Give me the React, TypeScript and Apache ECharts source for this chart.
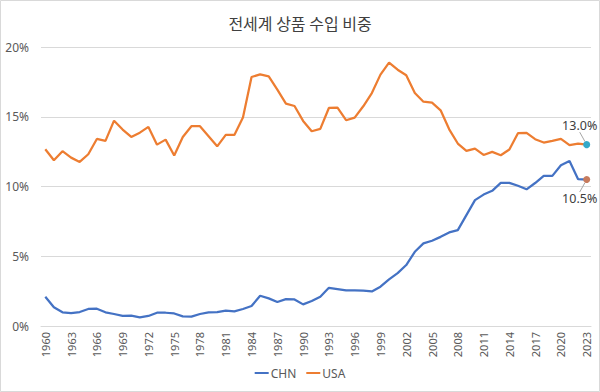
import React, { useEffect, useRef } from "react";
import * as echarts from "echarts";

const years: string[] = [];
for (let y = 1960; y <= 2023; y++) years.push(String(y));

const chn: number[] = [
  2.1, 1.34, 0.98, 0.93, 1.0, 1.22, 1.24, 0.98, 0.86, 0.72,
  0.74, 0.62, 0.72, 0.95, 0.95, 0.9, 0.69, 0.67, 0.86, 0.98,
  1.0, 1.1, 1.05, 1.22, 1.43, 2.17, 1.98, 1.72, 1.93, 1.9,
  1.55, 1.79, 2.1, 2.74, 2.65, 2.55, 2.55, 2.53, 2.48, 2.82,
  3.34, 3.79, 4.37, 5.32, 5.92, 6.11, 6.39, 6.71, 6.87, 7.95,
  9.02, 9.42, 9.69, 10.26, 10.26, 10.05, 9.8, 10.25, 10.76, 10.76,
  11.52, 11.83, 10.52, 10.5,
];

const usa: number[] = [
  12.67, 11.88, 12.53, 12.07, 11.76, 12.31, 13.41, 13.27, 14.72, 14.08,
  13.55, 13.86, 14.27, 13.0, 13.36, 12.22, 13.55, 14.32, 14.32, 13.6,
  12.88, 13.7, 13.7, 14.94, 17.85, 18.04, 17.9, 16.94, 15.94, 15.77,
  14.7, 13.96, 14.13, 15.63, 15.65, 14.75, 14.94, 15.75, 16.7, 18.02,
  18.88, 18.37, 17.97, 16.7, 16.08, 16.01, 15.46, 14.1, 13.08, 12.55,
  12.72, 12.26, 12.48, 12.24, 12.65, 13.82, 13.84, 13.39, 13.15, 13.27,
  13.41, 12.96, 13.08, 13.0,
];

const yTicks = { min: 0, max: 20, interval: 5 };

const FONT = "'Noto Sans', 'Noto Sans CJK KR', sans-serif";
const TXT = "#595959";

function withEnd(values: number[], color: string, below: boolean) {
  return values.map((v, i) =>
    i === values.length - 1
      ? {
          value: v,
          symbol: "circle",
          symbolSize: 7,
          itemStyle: { color },
          label: {
            show: true,
            position: below ? "bottom" : "top",
            distance: 0,
            formatter: (p: any) => p.value.toFixed(1) + "%",
            color: "#404040",
            fontSize: 12.5,
            fontFamily: FONT,
          },
        }
      : { value: v, symbol: "none" }
  );
}

export default function App() {
  const ref = useRef<HTMLDivElement>(null);
  useEffect(() => {
    if (!ref.current) return;
    const chart = echarts.init(ref.current, undefined, { renderer: "svg" });
    chart.setOption({
      animation: false,
      backgroundColor: "#ffffff",
      title: {
        text: "전세계 상품 수입 비중",
        left: "center",
        top: 10,
        textStyle: {
          fontFamily: "'Noto Sans CJK KR', sans-serif",
          fontSize: 16,
          fontWeight: "normal",
          color: "#404040",
        },
      },
      graphic: [
        {
          type: "rect",
          shape: { x: 0.5, y: 0.5, width: 599, height: 391 },
          style: { fill: "none", stroke: "#D9D9D9", lineWidth: 1 },
          silent: true,
        },
      ],
      legend: {
        bottom: 8,
        left: "center",
        icon: "rect",
        itemWidth: 14,
        itemHeight: 2,
        itemGap: 10,
        textStyle: { color: TXT, fontSize: 12, fontFamily: FONT, padding: [0, 0, 0, -3] },
        data: ["CHN", "USA"],
      },
      grid: { left: 41, right: 9, top: 47, bottom: 66 },
      xAxis: {
        type: "category",
        data: years,
        boundaryGap: true,
        axisLine: { lineStyle: { color: "#D9D9D9" } },
        axisTick: { interval: 2, length: 5, lineStyle: { color: "#D9D9D9" } },
        axisLabel: {
          interval: 2,
          rotate: 90,
          color: TXT,
          fontSize: 11,
          fontFamily: FONT,
          margin: 6,
        },
      },
      yAxis: {
        type: "value",
        min: yTicks.min,
        max: yTicks.max,
        interval: yTicks.interval,
        axisLine: { show: false },
        axisTick: { show: false },
        splitLine: { lineStyle: { color: "#D9D9D9" } },
        axisLabel: {
          formatter: "{value}%",
          color: TXT,
          fontSize: 12,
          fontFamily: FONT,
          margin: 12,
        },
      },
      series: [
        {
          name: "CHN",
          type: "line",
          data: withEnd(chn, "#C77B5D", true),
          symbol: "none",
          showSymbol: true,
          color: "#4472C4",
          lineStyle: { width: 2.25, color: "#4472C4" },
          labelLine: { show: true, lineStyle: { color: "#A6A6A6", width: 1 } },
          labelLayout: { dx: -7, dy: 9 },
          z: 3,
        },
        {
          name: "USA",
          type: "line",
          data: withEnd(usa, "#33A9C9", false),
          symbol: "none",
          showSymbol: true,
          color: "#ED7D31",
          lineStyle: { width: 2.25, color: "#ED7D31" },
          labelLine: { show: true, lineStyle: { color: "#A6A6A6", width: 1 } },
          labelLayout: { dx: -7, dy: -9 },
          z: 2,
        },
      ],
    });
    return () => chart.dispose();
  }, []);
  return (
    <div
      ref={ref}
      style={{ position: "absolute", left: 0, top: 0, width: 600, height: 392 }}
    />
  );
}
